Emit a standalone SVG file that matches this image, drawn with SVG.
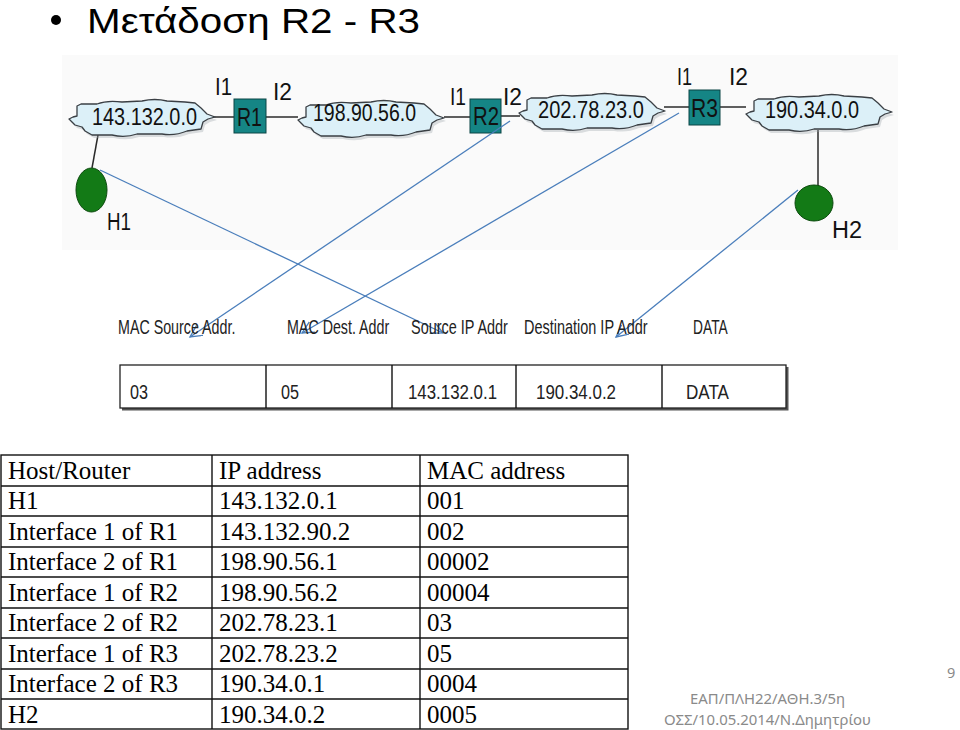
<svg xmlns="http://www.w3.org/2000/svg" width="960" height="730" viewBox="0 0 960 730">
<style>
.title{font-family:"Liberation Sans",Arial,sans-serif;font-size:35px;fill:#000}
.net{font-family:"Liberation Sans",Arial,sans-serif;fill:#111}
.ctext{font-size:24px}
.rtext{font-size:25px}
.ilab{font-size:23px}
.hlab{font-size:23px}
.flab{font-family:"Liberation Sans",Arial,sans-serif;font-size:20px;fill:#222}
.tab{font-family:"Liberation Serif","Times New Roman",serif;font-size:25px;fill:#000}
.foot{font-family:"Noto Sans","Open Sans",sans-serif;font-size:14.5px;fill:#8a8a8a}
.cloud{fill:#dcf0f8;stroke:#3a3f44;stroke-width:1.3;stroke-linejoin:round}
.cshadow{fill:#9aa3a8;opacity:0.35}
.router{fill:#158585;stroke:#0b4545;stroke-width:1}
.host{fill:#137a16;stroke:#0b4a0d;stroke-width:1}
.wire{stroke:#2a2a2a;stroke-width:1.5;fill:none}
.blue{stroke:#4a7ebb;stroke-width:1.3;fill:none;marker-end:url(#arr)}
.grid{stroke:#111;stroke-width:1.4;fill:none}
</style>
<defs>
<path id="cloudShape" d="M 2,21 L 6,19 L 10,18 L 10,8 L 14,6 L 30,6 Q 40,2 55,4 L 75,3 Q 88,0 100,3 L 118,4 L 128,5 L 134,10 L 140,16 L 148,19 L 141,21 L 136,24 L 134,31 L 120,33 Q 108,38 95,36 L 70,36 Q 58,40 45,37 L 25,37 L 18,33 L 15,29 L 8,27 L 5,24 Z"/>
<marker id="arr" markerUnits="userSpaceOnUse" markerWidth="16" markerHeight="16" refX="12" refY="6" orient="auto">
<path d="M0,0 L12,6 L0,12" fill="none" stroke="#4a7ebb" stroke-width="1.3"/>
</marker>
</defs>

<rect x="0" y="0" width="960" height="730" fill="#fff"/>

<g id="title">
<circle cx="56" cy="20" r="5" fill="#000"/>
<text class="title" x="87" y="33" textLength="333" lengthAdjust="spacingAndGlyphs">Μετάδοση R2 - R3</text>
</g>

<rect id="network-bg" x="62" y="55" width="836" height="195" fill="#fafafa"/>

<g id="wires">
<line class="wire" x1="212" y1="117" x2="234" y2="117"/>
<line class="wire" x1="266" y1="117" x2="298" y2="117"/>
<line class="wire" x1="444" y1="117" x2="470" y2="117"/>
<line class="wire" x1="501" y1="116" x2="520" y2="116"/>
<line class="wire" x1="664" y1="107" x2="689" y2="107"/>
<line class="wire" x1="720" y1="107" x2="746" y2="107"/>
<line class="wire" x1="98" y1="135" x2="92" y2="168"/>
<line class="wire" x1="818" y1="130" x2="818" y2="186"/>
</g>

<g id="net-143">
<use href="#cloudShape" class="cshadow" transform="translate(69,101)"/>
<use href="#cloudShape" class="cloud" transform="translate(67,98)"/>
<text class="net ctext" x="92" y="125" textLength="105" lengthAdjust="spacingAndGlyphs">143.132.0.0</text>
</g>
<g id="net-198">
<use href="#cloudShape" class="cshadow" transform="translate(298,102)"/>
<use href="#cloudShape" class="cloud" transform="translate(296,99)"/>
<text class="net ctext" x="313" y="121" textLength="103" lengthAdjust="spacingAndGlyphs">198.90.56.0</text>
</g>
<g id="net-202">
<use href="#cloudShape" class="cshadow" transform="translate(519,95)"/>
<use href="#cloudShape" class="cloud" transform="translate(517,92)"/>
<text class="net ctext" x="538" y="118" textLength="106" lengthAdjust="spacingAndGlyphs">202.78.23.0</text>
</g>
<g id="net-190">
<use href="#cloudShape" class="cshadow" transform="translate(746,96)"/>
<use href="#cloudShape" class="cloud" transform="translate(744,93)"/>
<text class="net ctext" x="765" y="118" textLength="94" lengthAdjust="spacingAndGlyphs">190.34.0.0</text>
</g>

<g id="R1">
<rect class="router" x="234" y="99" width="32" height="34"/>
<text class="net rtext" x="237" y="126" textLength="25" lengthAdjust="spacingAndGlyphs">R1</text>
<text class="net ilab" x="215" y="95" textLength="17" lengthAdjust="spacingAndGlyphs">I1</text>
<text class="net ilab" x="273" y="100" textLength="19" lengthAdjust="spacingAndGlyphs">I2</text>
</g>
<g id="R2">
<rect class="router" x="470" y="99" width="31" height="34"/>
<text class="net rtext" x="473" y="125" textLength="26" lengthAdjust="spacingAndGlyphs">R2</text>
<text class="net ilab" x="450" y="105" textLength="16" lengthAdjust="spacingAndGlyphs">I1</text>
<text class="net ilab" x="503" y="105" textLength="19" lengthAdjust="spacingAndGlyphs">I2</text>
</g>
<g id="R3">
<rect class="router" x="689" y="90" width="31" height="35"/>
<text class="net rtext" x="691" y="117" textLength="27" lengthAdjust="spacingAndGlyphs">R3</text>
<text class="net ilab" x="677" y="85" textLength="15" lengthAdjust="spacingAndGlyphs">I1</text>
<text class="net ilab" x="729" y="85" textLength="19" lengthAdjust="spacingAndGlyphs">I2</text>
</g>
<g id="H1">
<ellipse class="host" cx="91.5" cy="190" rx="15.5" ry="22"/>
<text class="net hlab" x="107" y="230" textLength="24" lengthAdjust="spacingAndGlyphs">H1</text>
</g>
<g id="H2">
<ellipse class="host" cx="814" cy="203" rx="19" ry="18"/>
<text class="net hlab" x="832" y="238" textLength="30" lengthAdjust="spacingAndGlyphs">H2</text>
</g>

<g id="connectors">
<line class="blue" x1="100" y1="170" x2="443" y2="333"/>
<line class="blue" x1="510" y1="121" x2="190" y2="337"/>
<line class="blue" x1="679" y1="113" x2="302" y2="333"/>
<line class="blue" x1="798" y1="190" x2="616" y2="337"/>
</g>

<g id="frame-labels">
<text class="flab" transform="translate(118,334) scale(0.714,1)">MAC Source Addr.</text>
<text class="flab" transform="translate(287,334) scale(0.713,1)">MAC Dest. Addr</text>
<text class="flab" transform="translate(411,334) scale(0.723,1)">Source IP Addr</text>
<text class="flab" transform="translate(524,334) scale(0.724,1)">Destination IP Addr</text>
<text class="flab" transform="translate(693,334) scale(0.69,1)">DATA</text>
</g>

<g id="frame">
<path d="M122,409 L787,409 L787,367" stroke="#555" stroke-width="3" fill="none"/>
<rect x="120" y="365" width="666" height="43" fill="#fff" stroke="#222" stroke-width="1.3"/>
<line class="grid" x1="266" y1="365" x2="266" y2="408" stroke-width="1.2"/>
<line class="grid" x1="392" y1="365" x2="392" y2="408" stroke-width="1.2"/>
<line class="grid" x1="516" y1="365" x2="516" y2="408" stroke-width="1.2"/>
<line class="grid" x1="662" y1="365" x2="662" y2="408" stroke-width="1.2"/>
<text class="flab" x="130" y="399" textLength="18" lengthAdjust="spacingAndGlyphs">03</text>
<text class="flab" x="281" y="399" textLength="18" lengthAdjust="spacingAndGlyphs">05</text>
<text class="flab" x="408" y="399" textLength="89" lengthAdjust="spacingAndGlyphs">143.132.0.1</text>
<text class="flab" x="536" y="399" textLength="80" lengthAdjust="spacingAndGlyphs">190.34.0.2</text>
<text class="flab" x="686" y="399" textLength="43" lengthAdjust="spacingAndGlyphs">DATA</text>
</g>

<g id="address-table">
<rect class="grid" x="1" y="455" width="627" height="274"/>
<line class="grid" x1="212" y1="455" x2="212" y2="729"/>
<line class="grid" x1="420" y1="455" x2="420" y2="729"/>
<line class="grid" x1="1" y1="486" x2="628" y2="486"/>
<line class="grid" x1="1" y1="516" x2="628" y2="516"/>
<line class="grid" x1="1" y1="547" x2="628" y2="547"/>
<line class="grid" x1="1" y1="577" x2="628" y2="577"/>
<line class="grid" x1="1" y1="608" x2="628" y2="608"/>
<line class="grid" x1="1" y1="638" x2="628" y2="638"/>
<line class="grid" x1="1" y1="669" x2="628" y2="669"/>
<line class="grid" x1="1" y1="699" x2="628" y2="699"/>
<text class="tab" x="8" y="479">Host/Router</text>
<text class="tab" x="219" y="479">IP address</text>
<text class="tab" x="427" y="479">MAC address</text>
<text class="tab" x="8" y="509">H1</text>
<text class="tab" x="219" y="509">143.132.0.1</text>
<text class="tab" x="427" y="509">001</text>
<text class="tab" x="8" y="540">Interface 1 of R1</text>
<text class="tab" x="219" y="540">143.132.90.2</text>
<text class="tab" x="427" y="540">002</text>
<text class="tab" x="8" y="570">Interface 2 of R1</text>
<text class="tab" x="219" y="570">198.90.56.1</text>
<text class="tab" x="427" y="570">00002</text>
<text class="tab" x="8" y="601">Interface 1 of R2</text>
<text class="tab" x="219" y="601">198.90.56.2</text>
<text class="tab" x="427" y="601">00004</text>
<text class="tab" x="8" y="631">Interface 2 of R2</text>
<text class="tab" x="219" y="631">202.78.23.1</text>
<text class="tab" x="427" y="631">03</text>
<text class="tab" x="8" y="662">Interface 1 of R3</text>
<text class="tab" x="219" y="662">202.78.23.2</text>
<text class="tab" x="427" y="662">05</text>
<text class="tab" x="8" y="692">Interface 2 of R3</text>
<text class="tab" x="219" y="692">190.34.0.1</text>
<text class="tab" x="427" y="692">0004</text>
<text class="tab" x="8" y="723">H2</text>
<text class="tab" x="219" y="723">190.34.0.2</text>
<text class="tab" x="427" y="723">0005</text>
</g>

<g id="footer">
<text class="foot" x="690" y="704" textLength="155" lengthAdjust="spacingAndGlyphs">ΕΑΠ/ΠΛΗ22/ΑΘΗ.3/5η</text>
<text class="foot" x="664" y="725" textLength="207" lengthAdjust="spacingAndGlyphs">ΟΣΣ/10.05.2014/Ν.Δημητρίου</text>
<text class="foot" x="947" y="678">9</text>
</g>
</svg>
